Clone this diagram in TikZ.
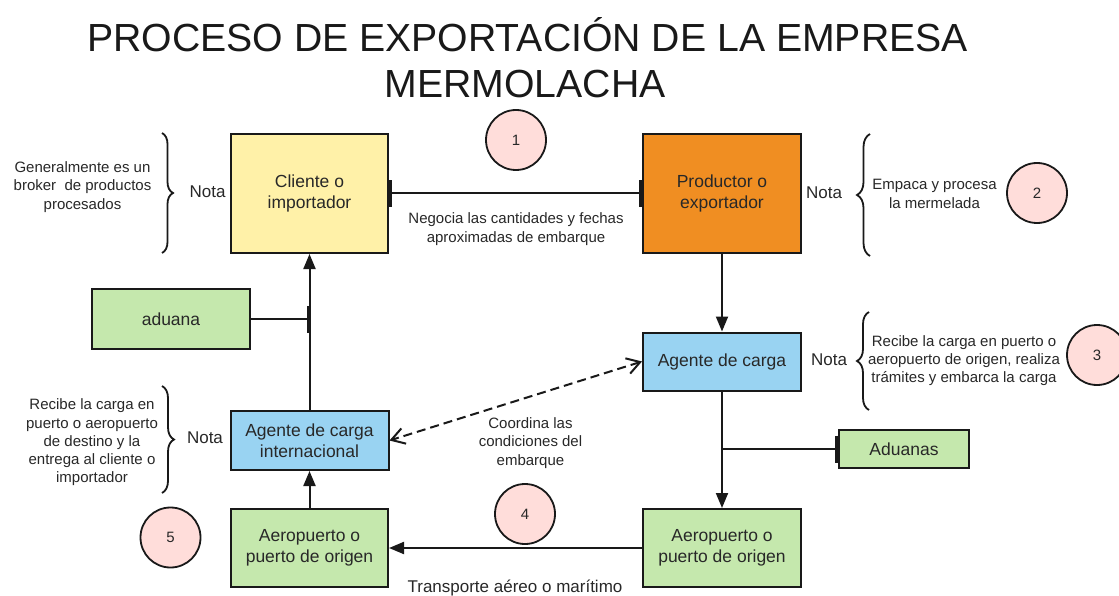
\documentclass[tikz,border=0pt]{standalone}
\usepackage{fontspec}
\setmainfont{Liberation Sans}
\usetikzlibrary{arrows.meta,decorations.pathreplacing}
\definecolor{cyel}{RGB}{255,241,168}
\definecolor{corg}{RGB}{240,142,34}
\definecolor{cblu}{RGB}{153,211,242}
\definecolor{cgrn}{RGB}{197,232,173}
\definecolor{cpnk}{RGB}{255,221,218}
\definecolor{ctxt}{RGB}{40,40,40}
\definecolor{cline}{RGB}{25,25,25}
\begin{document}
\begin{tikzpicture}[x=1pt,y=-1pt,
  box/.style={draw=cline, line width=2pt, align=center, text=ctxt, font=\fontsize{17.5}{21}\selectfont, inner sep=0pt},
  conn/.style={draw=cline, line width=2pt},
  tri/.style={-{Triangle[length=15pt,width=12pt]}},
  bartip/.style={-{Bar[width=27pt,line width=3pt]}},
  circ/.style={circle, draw=cline, line width=1.8pt, fill=cpnk, minimum size=60pt, inner sep=0pt, text=ctxt, font=\fontsize{15}{18}\selectfont},
  note/.style={align=center, inner sep=0pt, text=ctxt, font=\fontsize{15}{18.3}\selectfont},
  nota/.style={inner sep=0pt, text=ctxt, font=\fontsize{17}{21}\selectfont},
  title/.style={inner sep=0pt, text=black!90, font=\fontsize{39.2}{46}\selectfont},
  bracestyle/.style={draw=cline, line width=1.8pt, decorate, decoration={brace, amplitude=#1}}
]
\useasboundingbox (0,0) rectangle (1119,596);
\fill[white] (0,0) rectangle (1119,596);

% title
\node[title, anchor=base] (t1) at (527.5,52) {PROCESO DE EXPORTACIÓN DE LA EMPRESA};
\node[title, anchor=base] (t2) at (525,98) {MERMOLACHA};

% boxes
\node[box, fill=cyel, minimum width=157pt, minimum height=119pt] (cliente) at (309.5,193.5) {Cliente o\\importador};
\node[box, fill=corg, minimum width=158pt, minimum height=119pt] (productor) at (722,193.5) {Productor o\\exportador};
\node[box, fill=cblu, minimum width=158pt, minimum height=58pt] (agente) at (722,361.5) {Agente de carga};
\node[box, fill=cblu, minimum width=158pt, minimum height=59pt] (agenteint) at (309.5,440.5) {Agente de carga\\internacional};
\node[box, fill=cgrn, minimum width=158pt, minimum height=60pt] (aduana) at (171,319) {aduana};
\node[box, fill=cgrn, minimum width=130pt, minimum height=38pt] (aduanas) at (904,449) {Aduanas};
\node[box, fill=cgrn, minimum width=157pt, minimum height=78pt] (aeroL) at (309.5,548) {Aeropuerto o\\puerto de origen};
\node[box, fill=cgrn, minimum width=158pt, minimum height=78pt] (aeroR) at (722,548) {Aeropuerto o\\puerto de origen};

% circles
\node[circ] (c1) at (516,140) {1};
\node[circ] (c2) at (1037,193) {2};
\node[circ] (c3) at (1097,355) {3};
\node[circ] (c4) at (525,514) {4};
\node[circ] (c5) at (170.5,537.5) {5};

% connectors
\draw[conn, {Bar[width=27pt,line width=3pt]}-{Bar[width=27pt,line width=3pt]}] (cliente.east) -- (productor.west);
\draw[conn, tri] (productor) -- (agente);
\draw[conn, tri] (agente) -- (aeroR);
\draw[conn, bartip] (agente.south |- aduanas.west) -- (aduanas.west);
\draw[conn, tri] (aeroR) -- (aeroL);
\draw[conn, tri] (aeroL) -- (agenteint);
\draw[conn, tri] (agenteint) -- (cliente);
\draw[conn, bartip] (aduana.east) -- (aduana.east -| cliente.south);
\draw[conn, dash pattern=on 9pt off 5pt, {Straight Barb[length=13pt,width=16pt]}-{Straight Barb[length=13pt,width=16pt]}] (agente.west) -- (agenteint.east);

% connector labels
\node[note] (l1) at (516,229) {Negocia las cantidades y fechas\\aproximadas de embarque};
\node[note] (l2) at (530.5,443) {Coordina las\\condiciones del\\embarque};
\node[nota] (l3) at (515,588) {Transporte aéreo o marítimo};

% notes
\node[nota] (nota1) at (207.5,192) {Nota};
\draw[bracestyle=11pt] (162,133) -- (162,253);
\node[note] (n1) at (82.5,187) {Generalmente es un\\broker\ \ de productos\\procesados};

\node[nota] (nota2) at (824,193) {Nota};
\draw[bracestyle=13pt] (870,256) -- (870,134);
\node[note] (n2) at (934.5,194) {Empaca y procesa\\la mermelada};

\node[nota] (nota3) at (829,360) {Nota};
\draw[bracestyle=12pt] (869,410) -- (869,312);
\node[note] (n3) at (964,360.5) {Recibe la carga en puerto o\\aeropuerto de origen, realiza\\trámites y embarca la carga};

\node[nota] (nota4) at (205,438) {Nota};
\draw[bracestyle=12pt] (162,386) -- (162,493);
\node[note] (n4) at (92,442.5) {Recibe la carga en\\puerto o aeropuerto\\de destino y la\\entrega al cliente o\\importador};
\end{tikzpicture}
\end{document}
